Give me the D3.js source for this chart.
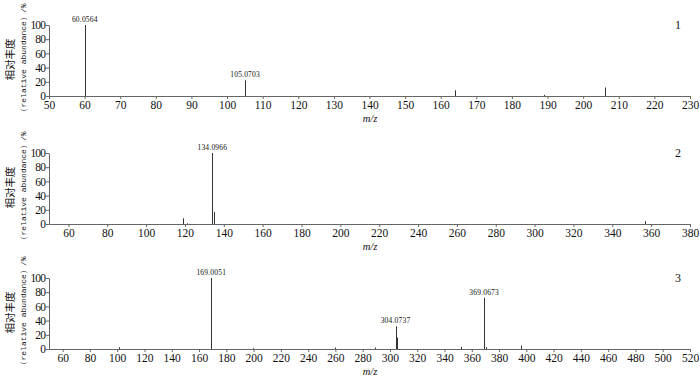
<!DOCTYPE html>
<html>
<head>
<meta charset="utf-8">
<script src="https://cdn.jsdelivr.net/npm/d3@7"></script>
<style>
  body { margin: 0; background: #fff; }
  text { fill: #111; }
</style>
</head>
<body>
<div id="chart"></div>
<script>
let width = 700,
    height = 377,
    margin = ({ left: 49, right: 10 });

// spectrum 1
const mz1 = [60.0564, 105.0703, 164.1, 189.1, 206.1];
const ab1 = [100, 22, 8, 1.5, 12];
const lab1 = ["60.0564", "105.0703", "", "", ""];
const xTicks1 = [50, 60, 70, 80, 90, 100, 110, 120, 130, 140, 150, 160, 170, 180, 190, 200, 210, 220, 230];

// spectrum 2
const mz2 = [119.1, 121.1, 134.0966, 135.1, 356.7];
const ab2 = [8, 1, 100, 17, 4];
const lab2 = ["", "", "134.0966", "", ""];
const xTicks2 = [60, 80, 100, 120, 140, 160, 180, 200, 220, 240, 260, 280, 300, 320, 340, 360, 380];

// spectrum 3
const mz3 = [101, 169.0051, 199.4, 260, 289, 304.0737, 305.1, 352.3, 369.0673, 370.1, 395.9];
const ab3 = [2.5, 100, 1, 2, 2, 32, 16, 3, 72, 2.5, 5];
const lab3 = ["", "169.0051", "", "", "", "304.0737", "", "", "369.0673", "", ""];
const xTicks3 = [60, 80, 100, 120, 140, 160, 180, 200, 220, 240, 260, 280, 300, 320, 340, 360, 380, 400, 420, 440, 460, 480, 500, 520];

const yTicks = [0, 20, 40, 60, 80, 100];

const panels = [
  { top: 25, bottom: 96, domain: [50, 230], mz: mz1, ab: ab1, lab: lab1, ticks: xTicks1, num: "1" },
  { top: 153, bottom: 224, domain: [50, 380], mz: mz2, ab: ab2, lab: lab2, ticks: xTicks2, num: "2" },
  { top: 278, bottom: 349, domain: [50, 520], mz: mz3, ab: ab3, lab: lab3, ticks: xTicks3, num: "3" }
];

const svg = d3.select("#chart")
  .append("svg")
  .attr("width", width)
  .attr("height", height)
  .attr("viewBox", [0, 0, width, height]);

panels.forEach(p => {
  let x = d3.scaleLinear()
    .domain(p.domain)
    .range([margin.left, width - margin.right]);

  let y = d3.scaleLinear()
    .domain([0, 100])
    .range([p.bottom, p.top]);

  const g = svg.append("g");

  // x axis, ticks point outwards
  const xa = g.append("g")
    .attr("transform", `translate(0,${p.bottom})`)
    .call(d3.axisBottom(x).tickValues(p.ticks).tickSize(3).tickSizeOuter(0).tickPadding(2));
  xa.selectAll("text")
    .attr("font-family", "'Liberation Serif', serif")
    .attr("font-size", 11.5);

  const ya = g.append("g")
    .attr("transform", `translate(${margin.left},0)`)
    .call(d3.axisLeft(y).tickValues(yTicks).tickSize(3).tickSizeOuter(0).tickPadding(1));
  ya.selectAll("text")
    .attr("font-family", "'Liberation Serif', serif")
    .attr("font-size", 11.5)
    .attr("letter-spacing", "-0.9px");

  g.selectAll(".domain, .tick line").attr("stroke", "#666");

  // peaks as sticks
  const peaks = p.mz.map((m, i) => ({ mz: m, ab: p.ab[i], lab: p.lab[i] }));
  g.append("g")
    .selectAll("line")
    .data(peaks)
    .join("line")
    .attr("x1", d => Math.round(x(d.mz)) + 0.5)
    .attr("x2", d => Math.round(x(d.mz)) + 0.5)
    .attr("y1", y(0))
    .attr("y2", d => y(d.ab))
    .attr("stroke", "#333")
    .attr("stroke-width", 1);

  g.append("g")
    .selectAll("text")
    .data(peaks.filter(d => d.lab))
    .join("text")
    .attr("x", d => x(d.mz))
    .attr("y", d => y(d.ab) - 3)
    .attr("text-anchor", "middle")
    .attr("font-family", "'Liberation Serif', serif")
    .attr("font-size", 7.5)
    .attr("letter-spacing", "0.2px")
    .text(d => d.lab);

  // panel number
  g.append("text")
    .attr("x", 675)
    .attr("y", p.top + 4)
    .attr("font-family", "'Liberation Serif', serif")
    .attr("font-size", 12)
    .text(p.num);

  // m/z label
  g.append("text")
    .attr("x", 370)
    .attr("y", p.bottom + 26)
    .attr("text-anchor", "middle")
    .attr("font-family", "'Liberation Serif', serif")
    .attr("font-style", "italic")
    .attr("font-size", 10.5)
    .text("m/z");

  // y axis title, two rotated lines
  const cy = (p.top + p.bottom) / 2 - 1;
  g.append("text")
    .attr("transform", `translate(14,${cy}) rotate(-90)`)
    .attr("text-anchor", "middle")
    .attr("font-family", "'Noto Sans CJK SC', sans-serif")
    .attr("font-size", 10.5)
    .text("相对丰度");
  g.append("text")
    .attr("transform", `translate(26,${cy}) rotate(-90)`)
    .attr("text-anchor", "middle")
    .attr("font-family", "'Liberation Mono', monospace")
    .attr("font-size", 8)
    .text("（relative abundance）/%");
});
</script>
</body>
</html>
